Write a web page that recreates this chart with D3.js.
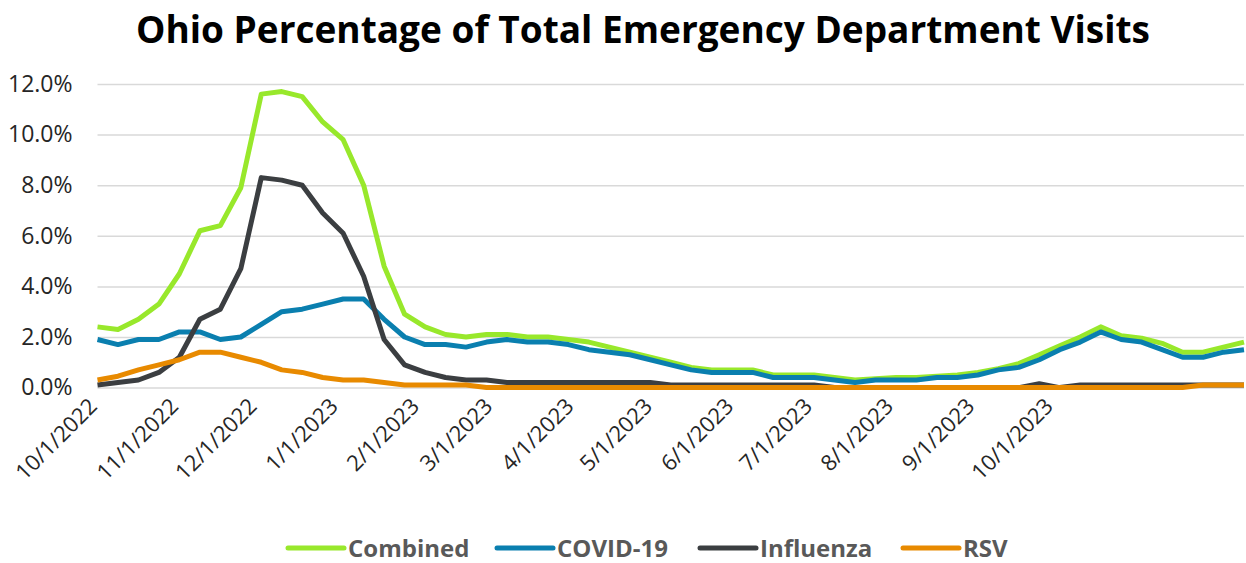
<!DOCTYPE html>
<html>
<head>
<meta charset="utf-8">
<script src="https://cdn.jsdelivr.net/npm/d3@7"></script>
<style>
  html, body { margin: 0; padding: 0; background: #ffffff; }
  svg { display: block; }
</style>
</head>
<body>
<svg id="chart" width="1246" height="563"></svg>
<script>
// ---- data (weekly, week of 10/1/2022 through 10/28/2023) ----
const startDate = new Date(2022, 9, 1);
const endDate = new Date(2023, 9, 29);
const weeks = d3.timeSaturday.range(startDate, endDate);

const combined = [2.4, 2.3, 2.7, 3.3, 4.5, 6.2, 6.4, 7.9, 11.6, 11.7, 11.5, 10.5, 9.8, 8.0, 4.8, 2.9,
  2.4, 2.1, 2.0, 2.1, 2.1, 2.0, 2.0, 1.9, 1.8, 1.6, 1.4, 1.2, 1.0, 0.8, 0.7, 0.7, 0.7, 0.5, 0.5, 0.5,
  0.4, 0.3, 0.35, 0.4, 0.4, 0.45, 0.5, 0.6, 0.75, 0.95, 1.3, 1.65, 2.0, 2.4, 2.05, 1.95, 1.75, 1.4, 1.4, 1.6, 1.8];
const covid = [1.9, 1.7, 1.9, 1.9, 2.2, 2.2, 1.9, 2.0, 2.5, 3.0, 3.1, 3.3, 3.5, 3.5, 2.7, 2.0,
  1.7, 1.7, 1.6, 1.8, 1.9, 1.8, 1.8, 1.7, 1.5, 1.4, 1.3, 1.1, 0.9, 0.7, 0.6, 0.6, 0.6, 0.4, 0.4, 0.4,
  0.3, 0.2, 0.3, 0.3, 0.3, 0.4, 0.4, 0.5, 0.7, 0.8, 1.1, 1.5, 1.8, 2.2, 1.9, 1.8, 1.5, 1.2, 1.2, 1.4, 1.5];
const influenza = [0.1, 0.2, 0.3, 0.6, 1.2, 2.7, 3.1, 4.7, 8.3, 8.2, 8.0, 6.9, 6.1, 4.4, 1.9, 0.9,
  0.6, 0.4, 0.3, 0.3, 0.2, 0.2, 0.2, 0.2, 0.2, 0.2, 0.2, 0.2, 0.1, 0.1, 0.1, 0.1, 0.1, 0.1, 0.1, 0.1,
  0.0, 0.0, 0.0, 0.0, 0.0, 0.0, 0.0, 0.0, 0.0, 0.0, 0.15, 0.0, 0.1, 0.1, 0.1, 0.1, 0.1, 0.1, 0.1, 0.1, 0.1];
const rsv = [0.3, 0.45, 0.7, 0.9, 1.1, 1.4, 1.4, 1.2, 1.0, 0.7, 0.6, 0.4, 0.3, 0.3, 0.2, 0.1,
  0.1, 0.1, 0.1, 0.0, 0.0, 0.0, 0.0, 0.0, 0.0, 0.0, 0.0, 0.0, 0.0, 0.0, 0.0, 0.0, 0.0, 0.0, 0.0, 0.0,
  0.0, 0.0, 0.0, 0.0, 0.0, 0.0, 0.0, 0.0, 0.0, 0.0, 0.0, 0.0, 0.0, 0.0, 0.0, 0.0, 0.0, 0.0, 0.1, 0.1, 0.1];

const seriesNames = ["Combined", "COVID-19", "Influenza", "RSV"];
const seriesColors = ["#98E82B", "#0A7FAF", "#3B3E41", "#E88A00"];
const seriesValues = [combined, covid, influenza, rsv];

const yTickValues = [0, 2, 4, 6, 8, 10, 12];
const xTickLabels = ["10/1/2022", "11/1/2022", "12/1/2022", "1/1/2023", "2/1/2023", "3/1/2023",
  "4/1/2023", "5/1/2023", "6/1/2023", "7/1/2023", "8/1/2023", "9/1/2023", "10/1/2023"];
const titleText = "Ohio Percentage of Total Emergency Department Visits";

// ---- layout ----
const svg = d3.select("#chart");
const plot = { left: 97.5, right: 1244, top: 84, bottom: 387.6 };

const x = d3.scaleTime()
  .domain([weeks[0], weeks[weeks.length - 1]])
  .range([plot.left, plot.right]);
const y = d3.scaleLinear()
  .domain([0, 12])
  .range([plot.bottom, plot.top]);

const parseTick = d3.timeParse("%m/%d/%Y");
const tickDates = xTickLabels.map(parseTick);
// the category labels in the source sit on their own, slightly tighter, date scale
const xLabel = d3.scaleTime()
  .domain([tickDates[0], tickDates[tickDates.length - 1]])
  .range([100, 1056]);

// title
svg.append("text")
  .attr("x", 643).attr("y", 43)
  .attr("text-anchor", "middle")
  .attr("font-family", "'Open Sans', sans-serif")
  .attr("font-weight", 700)
  .attr("font-size", 37)
  .attr("fill", "#000")
  .text(titleText);

// gridlines + y labels
const yAxis = svg.append("g")
  .attr("transform", `translate(${plot.left},0)`)
  .call(d3.axisLeft(y)
    .tickValues(yTickValues)
    .tickSize(-(plot.right - plot.left))
    .tickPadding(25)
    .tickFormat(d => d3.format(".1f")(d) + "%"));
yAxis.select(".domain").remove();
yAxis.selectAll(".tick line").attr("stroke", "#d9d9d9").attr("stroke-width", 1.5);
yAxis.selectAll(".tick text")
  .attr("font-family", "'Open Sans', sans-serif")
  .attr("font-size", 23)
  .attr("fill", "#262626");

// x axis labels
const xAxis = svg.append("g")
  .attr("transform", `translate(0,${plot.bottom})`)
  .call(d3.axisBottom(xLabel)
    .tickValues(tickDates)
    .tickSize(0)
    .tickFormat(d3.timeFormat("%-m/%-d/%Y")));
xAxis.select(".domain").remove();
xAxis.selectAll(".tick text")
  .attr("font-family", "'Open Sans', sans-serif")
  .attr("font-size", 22)
  .attr("fill", "#262626")
  .attr("text-anchor", "end")
  .attr("dy", 0)
  .attr("y", 0)
  .attr("transform", "translate(-2,20) rotate(-45)");

// lines
const line = d3.line()
  .x((d, i) => x(weeks[i]))
  .y(d => y(d));

svg.append("g").selectAll("path")
  .data(seriesValues)
  .join("path")
  .attr("d", d => line(d))
  .attr("fill", "none")
  .attr("stroke", (d, i) => seriesColors[i])
  .attr("stroke-width", 5)
  .attr("stroke-linejoin", "round")
  .attr("stroke-linecap", "butt");

// legend
const legendX = [288, 497, 700, 903];
const legend = svg.append("g");
seriesNames.forEach((name, i) => {
  const g = legend.append("g").attr("transform", `translate(${legendX[i]},548)`);
  g.append("line")
    .attr("x1", 0).attr("x2", 56).attr("y1", 0).attr("y2", 0)
    .attr("stroke", seriesColors[i]).attr("stroke-width", 5)
    .attr("stroke-linecap", "round");
  g.append("text")
    .attr("x", 60).attr("y", 8.5)
    .attr("font-family", "'Open Sans', sans-serif")
    .attr("font-weight", 700)
    .attr("font-size", 24)
    .attr("fill", "#595959")
    .text(name);
});
</script>
</body>
</html>
